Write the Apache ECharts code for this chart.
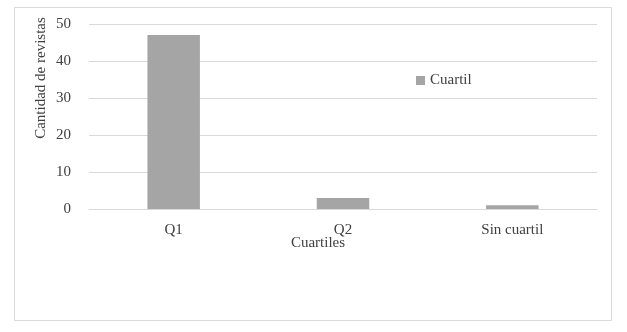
<!DOCTYPE html>
<html><head><meta charset="utf-8">
<script src="https://cdn.jsdelivr.net/npm/echarts@6/dist/echarts.min.js"></script>
<style>html,body{margin:0;padding:0;background:#fff}#c{width:627px;height:332px}</style>
</head><body><div id="c"></div>
<script>
const categories = ['Q1', 'Q2', 'Sin cuartil'];
const cuartilValues = [47, 3, 1];
const seriesName = 'Cuartil';
const yTitle = 'Cantidad de revistas';
const xTitle = 'Cuartiles';
const font = '"Liberation Serif", "DejaVu Serif", serif';
const chart = echarts.init(document.getElementById('c'));
chart.setOption({
  animation: false,
  backgroundColor: '#fff',
  textStyle: {fontFamily: font},
  grid: {left: 89, right: 30, top: 24, bottom: 123, containLabel: false},
  legend: {
    data: [seriesName], left: 411, top: 68, icon: 'rect', itemWidth: 9, itemHeight: 9, itemGap: 5,
    textStyle: {fontFamily: font, fontSize: 15, color: '#404040'}
  },
  graphic: [
    {type: 'rect', shape: {x: 14.5, y: 7.5, width: 597, height: 313}, style: {fill: 'none', stroke: '#d9d9d9', lineWidth: 1}, silent: true, z: -1},
    {type: 'text', x: 41, y: 78, rotation: Math.PI / 2, style: {text: yTitle, font: '15px ' + font, fill: '#404040', textAlign: 'center', textVerticalAlign: 'middle'}},
    {type: 'text', x: 318, y: 243, style: {text: xTitle, font: '15px ' + font, fill: '#404040', textAlign: 'center', textVerticalAlign: 'middle'}}
  ],
  xAxis: {
    type: 'category', data: categories,
    axisLine: {show: true, lineStyle: {color: '#d9d9d9'}},
    axisTick: {show: false},
    axisLabel: {fontFamily: font, fontSize: 15, color: '#404040', margin: 14}
  },
  yAxis: {
    type: 'value', min: 0, max: 50, interval: 10,
    axisLine: {show: false}, axisTick: {show: false},
    splitLine: {lineStyle: {color: '#d9d9d9', width: 1}},
    axisLabel: {fontFamily: font, fontSize: 15, color: '#404040', margin: 18}
  },
  series: [{
    name: seriesName, type: 'bar', data: cuartilValues, barWidth: '31%',
    itemStyle: {color: '#a5a5a5'}
  }]
});
</script></body></html>
